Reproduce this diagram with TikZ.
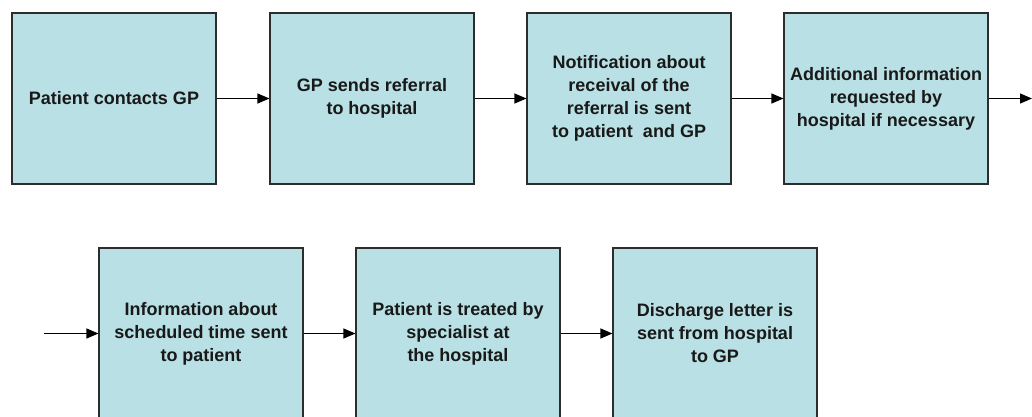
\documentclass[tikz,border=0pt]{standalone}
\usepackage{fontspec}
\setmainfont{Liberation Sans}
\usetikzlibrary{arrows.meta}
\definecolor{boxfill}{RGB}{185,224,228}
\definecolor{boxline}{RGB}{45,45,45}
\tikzset{
  stepbox/.style={draw=boxline, line width=1.1pt, fill=boxfill, minimum width=204pt, minimum height=171pt, inner sep=0pt, align=center, font={\fontsize{18}{23}\selectfont\bfseries}, text=black!90},
  flow/.style={draw=black, line width=1.1pt, -{Triangle[length=12pt,width=10pt]}}
}
\begin{document}
\begin{tikzpicture}[x=1pt,y=-1pt]
\clip (0,0) rectangle (1032,416);
\fill[white] (0,0) rectangle (1032,416);
\node[stepbox] (b1) at (114,98.5) {Patient contacts GP};
\node[stepbox] (b2) at (372,98.5) {GP sends referral\\to hospital};
\node[stepbox] (b3) at (629,98.5) {Notification about\\receival of the\\referral is sent\\to patient\ \ and GP};
\node[stepbox] (b4) at (886,98.5) {Additional information\\requested by\\hospital if necessary};
\node[stepbox] (b5) at (201,333.5) {Information about\\scheduled time sent\\to patient};
\node[stepbox] (b6) at (458,333.5) {Patient is treated by\\specialist at\\the hospital};
\node[stepbox] (b7) at (715,333.5) {Discharge letter is\\sent from hospital\\to GP};
\coordinate (out) at (1032,98.5);
\coordinate (in) at (44,333.5);
\draw[flow] (b1) -- (b2);
\draw[flow] (b2) -- (b3);
\draw[flow] (b3) -- (b4);
\draw[flow] (b4) -- (out);
\draw[flow] (in) -- (b5);
\draw[flow] (b5) -- (b6);
\draw[flow] (b6) -- (b7);
\end{tikzpicture}
\end{document}
